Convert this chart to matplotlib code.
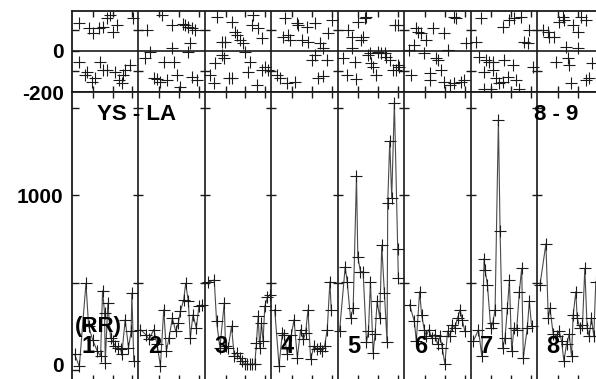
import matplotlib
matplotlib.use('Agg')
import matplotlib.pyplot as plt

plt.rcParams['font.family'] = ['Liberation Sans', 'DejaVu Sans']
plt.rcParams['font.weight'] = 'bold'

# RR series, one per segment: position inside segment (0..1) and value
rr_t1 = [.04, .11, .21, .25, .31, .38, .43, .46, .49, .50, .54, .58, .61, .65, .69, .73, .75, .80, .85, .89, .90, .93]
rr_v1 = [92, 23, 498, 253, 176, 111, 83, 455, 328, 45, 385, 187, 168, 140, 130, 121, 92, 290, 130, 224, 441, 55]
rr_t2 = [.03, .11, .16, .23, .28, .33, .38, .42, .46, .51, .56, .60, .63, .68, .71, .75, .78, .82, .87, .91, .96]
rr_v2 = [234, 205, 177, 234, 149, 27, 347, 111, 187, 300, 224, 271, 337, 403, 498, 394, 187, 318, 243, 366, 375]
rr_t3 = [.05, .14, .175, .225, .29, .31, .35, .40, .44, .475, .525, .56, .60, .64, .675, .71, .75, .775, .80, .825, .85, .875, .90, .94, .975]
rr_v3 = [504, 517, 281, 130, 385, 140, 130, 253, 83, 102, 73, 55, 36, 36, 36, 36, 36, 158, 309, 130, 271, 168, 366, 417, 432]
rr_t4 = [.05, .115, .165, .19, .24, .30, .34, .39, .44, .48, .515, .55, .59, .64, .69, .73, .765, .80, .84, .88, .90]
rr_v4 = [347, 27, 215, 205, 92, 205, 290, 73, 234, 177, 215, 347, 64, 140, 121, 130, 111, 140, 234, 507, 347]
rr_t5 = [.025, .11, .14, .19, .23, .28, .30, .34, .38, .43, .46, .49, .53, .56, .59, .63, .66, .70, .74, .75, .78, .81, .85, .90, .91]
rr_v5 = [225, 592, 507, 300, 356, 1111, 649, 564, 564, 160, 225, 507, 102, 207, 394, 300, 715, 441, 160, 957, 1309, 985, 1530, 696, 526]
rr_t6 = [.08, .15, .18, .23, .26, .30, .33, .37, .41, .46, .50, .535, .57, .61, .65, .69, .72, .76, .80, .84, .87, .91]
rr_v6 = [375, 281, 168, 450, 318, 234, 196, 234, 187, 205, 149, 196, 130, 36, 225, 196, 262, 243, 300, 347, 290, 225]
rr_t7 = [.04, .115, .165, .20, .215, .25, .30, .33, .365, .415, .44, .48, .515, .55, .58, .615, .65, .69, .73, .765, .79, .85, .88, .915]
rr_v7 = [168, 234, 83, 639, 573, 488, 243, 271, 347, 1432, 799, 130, 187, 356, 516, 111, 243, 234, 450, 583, 73, 243, 394, 252]
rr_t8 = [.04, .13, .165, .19, .24, .29, .33, .365, .40, .44, .48, .515, .54, .58, .60, .64, .68, .715, .75, .78, .815, .85, .88]
rr_v8 = [488, 724, 300, 356, 207, 196, 225, 168, 55, 149, 207, 83, 318, 450, 300, 243, 262, 583, 243, 196, 300, 196, 507]

# deviation scatter (top strip), one per segment
dv_t1 = [.11, .26, .31, .41, .47, .53, .57, .62, .68, .92, .11, .20, .23, .30, .35, .42, .47, .53, .65, .70, .77, .80, .87, .75]
dv_v1 = [135, 111, 86, 111, 118, 159, 176, 93, 127, 159, -52, -117, -101, -150, -133, -52, -93, -93, -101, -142, -117, -93, -69, -155]
dv_t2 = [.13, .35, .50, .67, .70, .75, .80, .85, .50, .78, .75, .18, .10, .38, .53, .23, .28, .33, .43, .58, .63, .80, .88]
dv_v2 = [102, 176, 127, 132, 127, 118, 111, 102, 13, 37, -4, -4, -36, -52, -52, -133, -138, -150, -142, -117, -174, -125, -142]
dv_t3 = [.18, .405, .455, .48, .53, .57, .705, .73, .805, .855, .255, .305, .255, .28, .155, .08, .13, .355, .405, .605, .68, .655, .78, .855, .905, .955]
dv_v3 = [167, 143, 93, 77, 53, 37, 127, 176, 111, 61, 45, 45, -20, -36, -60, -117, -158, -133, -133, -4, -52, -101, -166, -93, -77, -93]
dv_t4 = [.205, .255, .28, .38, .405, .18, .53, .655, .855, .905, .455, .555, .73, .78, .605, .655, .83, .08, .13, .23, .355, .705, .78]
dv_v4 = [159, 77, 53, 135, 127, 69, 118, 135, 86, 151, 53, 45, 37, 13, -44, -20, -44, -117, -133, -158, -150, -133, -122]
dv_t5 = [.155, .205, .305, .38, .405, .355, .43, .855, .205, .255, .08, .13, .28, .455, .505, .53, .58, .48, .605, .655, .705, .73, .78, .83, .88, .905, .90, .92]
dv_v5 = [102, 69, 143, 69, 159, 53, 167, 127, 13, -52, -36, -117, -138, -20, -60, -77, -117, -12, -4, -12, -12, -28, -44, -93, -93, -69, 127, -77]
dv_t6 = [.18, .20, .25, .43, .60, .75, .78, .93, .33, .15, .075, .30, .48, .50, .65, .55, .38, .38, .10, .60, .68, .75, .85, .90]
dv_v6 = [111, 93, 86, 111, 86, 167, 159, 37, 53, 29, 5, -12, -36, -44, 5, -93, -109, -142, -117, -150, -166, -158, -150, -142]
dv_t7 = [.155, .08, .48, .58, .655, .755, .88, .805, .855, .13, .23, .28, .33, .505, .63, .93, .205, .33, .38, .43, .48, .555, .68, .73, .205, .305]
dv_v7 = [159, 45, 118, 151, 159, 167, 102, 45, 37, -28, -44, -52, -52, -44, -69, -77, -101, -93, -133, -158, -150, -125, -142, -183, -183, -183]
dv_t8 = [.08, .155, .18, .255, .33, .38, .405, .53, .605, .655, .73, .43, .605, .28, .455, .48, .83, .78, .73, .505]
dv_v8 = [102, 93, 69, 69, 143, 167, 151, 127, 93, 167, 151, 20, 13, -52, -36, -69, -60, -133, -142, -158]

rr_t = [rr_t1, rr_t2, rr_t3, rr_t4, rr_t5, rr_t6, rr_t7, rr_t8]
rr_v = [rr_v1, rr_v2, rr_v3, rr_v4, rr_v5, rr_v6, rr_v7, rr_v8]
dv_t = [dv_t1, dv_t2, dv_t3, dv_t4, dv_t5, dv_t6, dv_t7, dv_t8]
dv_v = [dv_v1, dv_v2, dv_v3, dv_v4, dv_v5, dv_v6, dv_v7, dv_v8]
seg_labels = ['1', '2', '3', '4', '5', '6', '7', '8']

W, H = 596, 379
seg_px = 66.47


def box(l, t, r, b):
    return [l / W, (H - b) / H, (r - l) / W, (b - t) / H]


fig = plt.figure(figsize=(W / 100, H / 100), dpi=100)
ax_top = fig.add_axes(box(72, 11, 72 + 8 * seg_px, 92))
ax_bot = fig.add_axes(box(72, 92, 72 + 8 * seg_px, 381))

ink = '#1a1a1a'
xt = [s + f for s in range(8) for f in (0.31, 0.61, 0.91)]
for ax in (ax_top, ax_bot):
    ax.set_xlim(0, 8)
    ax.set_xticks(xt)
    ax.set_xticklabels([])
    ax.tick_params(axis='x', direction='in', length=4, width=1, top=True, bottom=True, color=ink)
    ax.tick_params(axis='y', direction='in', length=5, width=1, labelsize=15, pad=6, color=ink)
    for sp in ax.spines.values():
        sp.set_linewidth(1.3)
        sp.set_color(ink)
    for s in range(1, 8):
        ax.axvline(s, color=ink, lw=1.2)

# top strip
ax_top.set_ylim(-200, 195)
ax_top.set_yticks([-200, -100, 0, 100])
ax_top.set_yticklabels(['-200', '', '0', ''])
ax_top.axhline(0, color=ink, lw=1.2)
for s in range(1, 8):
    ax_top.plot([s, s], [-100, 100], ls='none', marker='_', ms=7, mew=1, color=ink)
for k in range(8):
    ax_top.plot([k + t for t in dv_t[k]], dv_v[k], ls='none', marker='+',
                ms=8, mew=0.8, color=ink)

# RR strip
ax_bot.set_ylim(-60, 1590)
ax_bot.set_yticks([0, 500, 1000, 1500])
ax_bot.set_yticklabels(['', '', '1000', ''])
# the zero label sits at the figure edge, nudge it up a little so it stays whole
ax_bot.annotate('0', xy=(0, 0), xycoords=('axes fraction', 'data'), xytext=(-6, 3),
                textcoords='offset points', ha='right', va='center',
                fontsize=15, fontweight='bold')
for s in range(1, 8):
    ax_bot.plot([s, s, s], [500, 1000, 1500], ls='none', marker='_', ms=7, mew=1, color=ink)
for k in range(8):
    xs = [k + t for t in rr_t[k]]
    ax_bot.plot(xs, rr_v[k], color='#4a4a4a', lw=0.8)
    ax_bot.plot(xs, rr_v[k], ls='none', marker='+', ms=8, mew=0.8, color=ink)
    ax_bot.text(k + 0.24, 136, seg_labels[k], fontsize=17, fontweight='bold',
                ha='center', va='center', color='black')

ax_bot.text(0.39, 249, '(RR)', fontsize=16, fontweight='bold', ha='center', va='center')
ax_bot.text(0.376, 1460, 'YS - LA', fontsize=16, fontweight='bold', ha='left', va='center')
ax_bot.text(6.95, 1460, '8 - 9', fontsize=16, fontweight='bold', ha='left', va='center')

fig.savefig('out.png', dpi=100)
